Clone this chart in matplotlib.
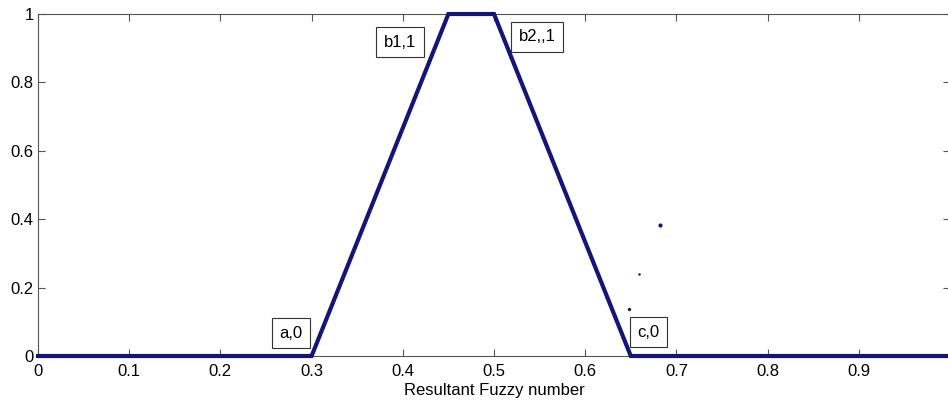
import matplotlib.pyplot as plt

# trapezoidal membership function of the resulting fuzzy number
x_pts = [0.0, 0.3, 0.45, 0.5, 0.65, 1.0]
mu_pts = [0.0, 0.0, 1.0, 1.0, 0.0, 0.0]

# stray points to the right of the falling edge
dot_x = [0.682, 0.659, 0.648]
dot_y = [0.383, 0.24, 0.137]
dot_size = [3.0, 1.8, 2.4]

# corner labels
lab_text = ['a,0', 'b1,1', 'b2,,1', 'c,0']
lab_x = [0.277, 0.397, 0.547, 0.669]
lab_y = [0.067, 0.918, 0.933, 0.07]

plt.rcParams['font.family'] = ['Liberation Sans', 'DejaVu Sans']

fig = plt.figure(figsize=(9.48, 4.03), dpi=100)
ax = fig.add_axes([38 / 948, 47 / 403, 912 / 948, 342 / 403])

ax.plot(x_pts, mu_pts, color='#14147a', lw=3, solid_joinstyle='miter', clip_on=False, zorder=3)
for xd, yd, s in zip(dot_x, dot_y, dot_size):
    ax.plot(xd, yd, 'o', color='#14147a', ms=s, mew=0)

for t, xt, yt in zip(lab_text, lab_x, lab_y):
    ax.text(xt, yt, t, ha='center', va='center', fontsize=12,
            bbox=dict(boxstyle='square,pad=0.45', fc='white', ec='#333333', lw=0.8))

ax.set_xlim(0, 1)
ax.set_ylim(0, 1)
ax.set_xticks([0, 0.1, 0.2, 0.3, 0.4, 0.5, 0.6, 0.7, 0.8, 0.9, 1.0])
ax.set_xticklabels(['0', '0.1', '0.2', '0.3', '0.4', '0.5', '0.6', '0.7', '0.8', '0.9', ''])
ax.set_yticks([0, 0.2, 0.4, 0.6, 0.8, 1])
ax.set_yticklabels(['0', '0.2', '0.4', '0.6', '0.8', '1'])
ax.tick_params(direction='in', length=5, width=0.8, color='#555555', labelsize=12,
               top=True, right=True)
ax.tick_params(axis='x', pad=6)
ax.tick_params(axis='y', pad=3)
for sp in ax.spines.values():
    sp.set_color('#555555')
    sp.set_linewidth(0.8)
ax.set_xlabel('Resultant Fuzzy number', fontsize=12, labelpad=3)

fig.savefig('out.png', dpi=100, facecolor='white')
